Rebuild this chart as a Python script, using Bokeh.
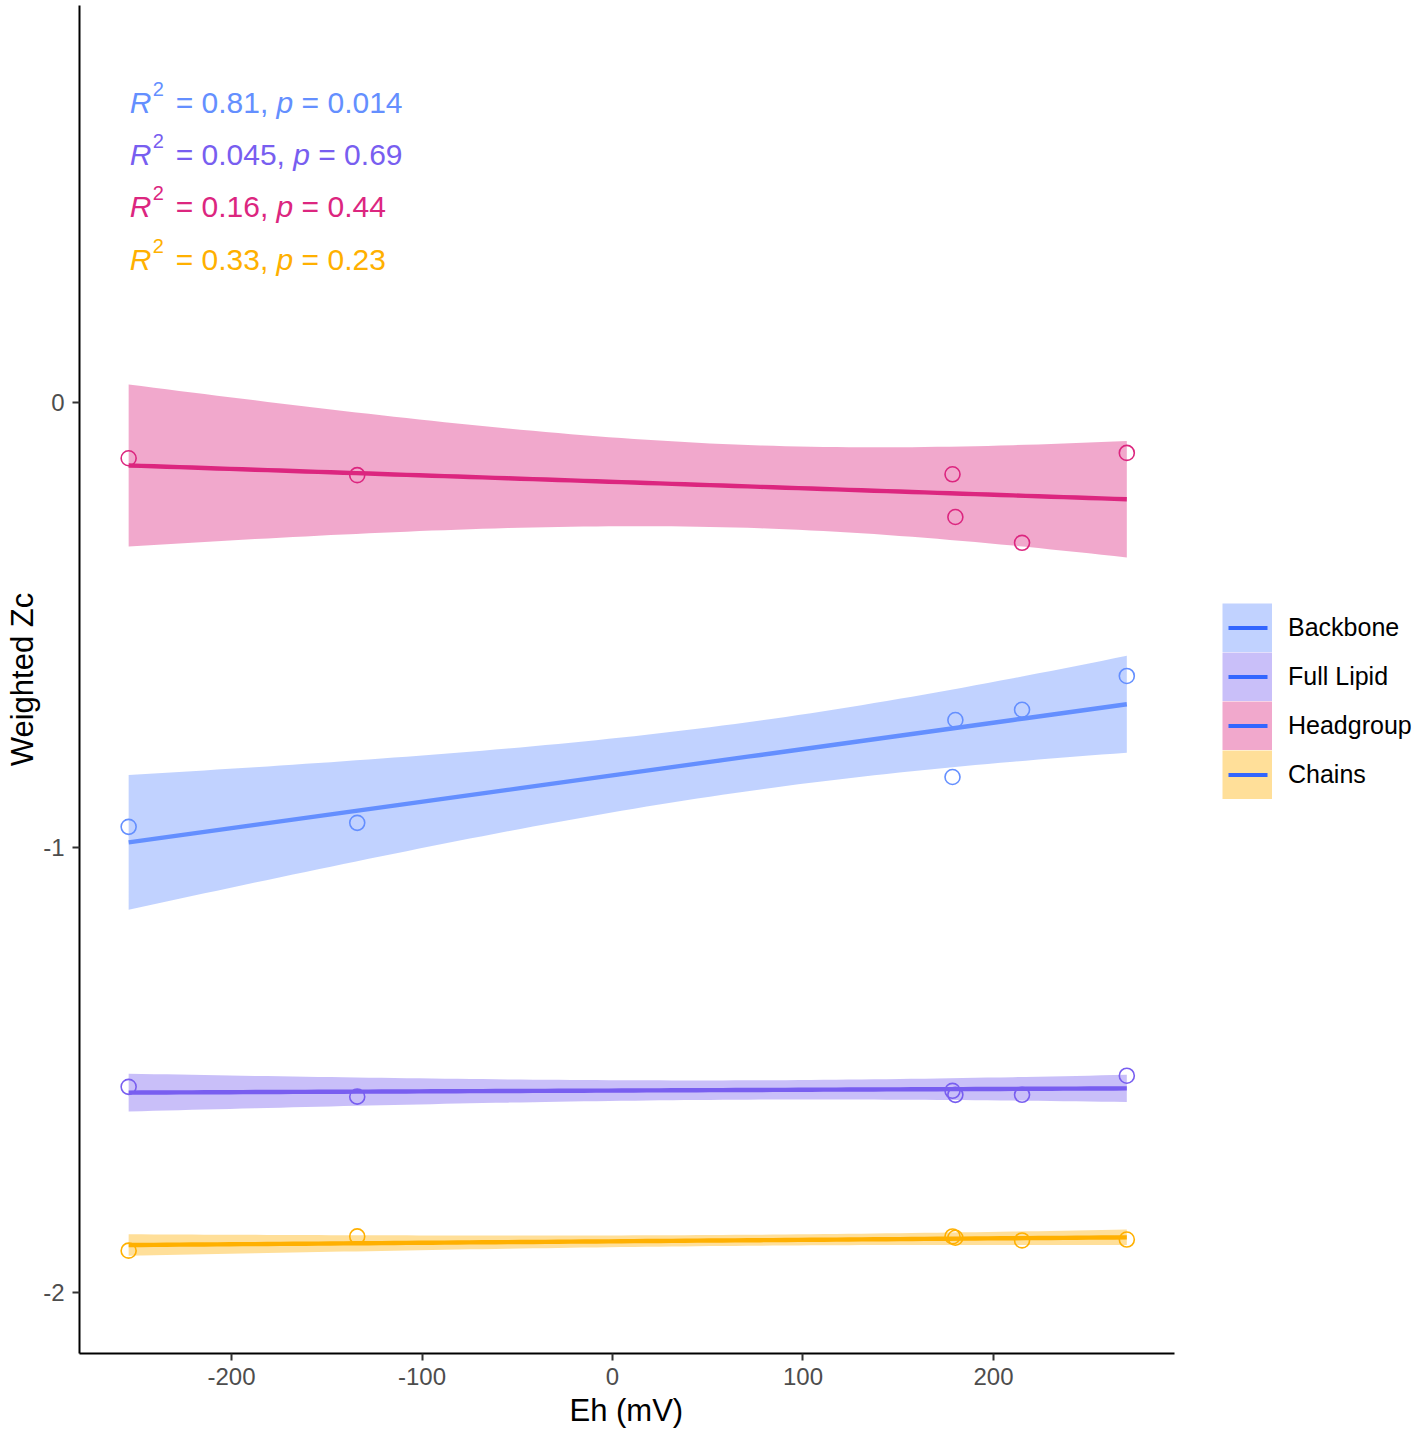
import numpy as np
from bokeh.plotting import figure
from bokeh.models import Range1d, FixedTicker, Legend, LegendItem, ColumnDataSource, Title
from bokeh.core.properties import value
from bokeh.embed import file_html
from bokeh.resources import INLINE

# ---------------- data ----------------
eh = [-254, -134, 178.5, 180, 215, 270]
backbone = [-0.954, -0.945, -0.842, -0.714, -0.691, -0.615]
full_lipid = [-1.538, -1.560, -1.547, -1.556, -1.556, -1.513]
headgroup = [-0.126, -0.164, -0.162, -0.258, -0.316, -0.114]
chains = [-1.906, -1.874, -1.874, -1.877, -1.883, -1.881]

groups = ["Backbone", "Full Lipid", "Headgroup", "Chains"]
series = [backbone, full_lipid, headgroup, chains]
colors = ["#648FFF", "#785EF0", "#DC267F", "#FFB000"]

r2_labels = ["0.81", "0.045", "0.16", "0.33"]
p_labels = ["0.014", "0.69", "0.44", "0.23"]
label_y = [0.674, 0.557, 0.440, 0.321]

x_ticks = [-200, -100, 0, 100, 200]
x_tick_labels = ["-200", "-100", "0", "100", "200"]
y_ticks = [-2, -1, 0]
y_tick_labels = ["-2", "-1", "0"]

x_axis_lo, x_axis_hi = -279.8, 295.0   # visible axis extent
x_view_hi = 422.6                        # frame extends right to hold the legend
y_lo, y_hi = -2.137, 0.891

FONT = "Liberation Sans"
T975_DF4 = 2.776445  # t quantile, 95% CI, df = n - 2 = 4


def lm_band(x, y, n=80):
    x = np.asarray(x, float)
    y = np.asarray(y, float)
    b, a = np.polyfit(x, y, 1)
    xs = np.linspace(x.min(), x.max(), n)
    fit = a + b * xs
    resid = y - (a + b * x)
    s = np.sqrt(np.sum(resid ** 2) / (len(x) - 2))
    se = s * np.sqrt(1.0 / len(x) + (xs - x.mean()) ** 2 / np.sum((x - x.mean()) ** 2))
    return xs, fit, fit - T975_DF4 * se, fit + T975_DF4 * se


p = figure(width=1417, height=1434, output_backend="svg", toolbar_location=None,
           x_range=Range1d(x_axis_lo, x_view_hi), y_range=Range1d(y_lo, y_hi),
           min_border_left=79, min_border_right=0, min_border_top=5, min_border_bottom=80)
p.background_fill_color = "white"
p.border_fill_color = "white"
p.outline_line_color = None
p.xgrid.visible = False
p.ygrid.visible = False

# points
for ys, c in zip(series, colors):
    p.scatter(x=eh, y=ys, size=15, marker="circle", fill_color=None,
              line_color=c, line_width=1.6)

# smooth bands + lines
for ys, c in zip(series, colors):
    xs, fit, lo, hi = lm_band(eh, ys)
    p.varea(x=xs, y1=lo, y2=hi, fill_color=c, fill_alpha=0.4)
    p.line(x=xs, y=fit, line_color=c, line_width=4.4)

# R^2 / p annotations
W = {'0': .556, '1': .556, '2': .556, '3': .556, '4': .556, '5': .556, '6': .556,
     '7': .556, '8': .556, '9': .556, '.': .278, ',': .278, ' ': .278, '=': .584}
FS = 30


def tw(s):
    return sum(W[ch] for ch in s) * FS


x_anchor = min(eh)
for r2, pv, ly, c in zip(r2_labels, p_labels, label_y, colors):
    seg1 = "= " + r2 + ", "
    off_eq = 47
    off_p = off_eq + tw(seg1)
    off_eq2 = off_p + 0.556 * FS + 0.278 * FS
    it = ColumnDataSource(dict(x=[x_anchor, x_anchor], y=[ly, ly], t=["R", "p"], o=[1, off_p]))
    p.text(x="x", y="y", text="t", x_offset="o", source=it, text_color=c,
           text_font=value(FONT), text_font_size=f"{FS}px", text_font_style="italic",
           text_baseline="alphabetic", text_align="left")
    rg = ColumnDataSource(dict(x=[x_anchor, x_anchor], y=[ly, ly], t=[seg1.rstrip(), "= " + pv],
                               o=[off_eq, off_eq2]))
    p.text(x="x", y="y", text="t", x_offset="o", source=rg, text_color=c,
           text_font=value(FONT), text_font_size=f"{FS}px",
           text_baseline="alphabetic", text_align="left")
    p.text(x=[x_anchor], y=[ly], text=["2"], x_offset=24, y_offset=-13, text_color=c,
           text_font=value(FONT), text_font_size="20px",
           text_baseline="alphabetic", text_align="left")

# axes
for ax in (p.xaxis[0], p.yaxis[0]):
    ax.axis_line_color = "black"
    ax.axis_line_width = 2
    ax.major_tick_line_color = "#333333"
    ax.major_tick_line_width = 2
    ax.major_tick_out = 7
    ax.major_tick_in = 0
    ax.minor_tick_line_color = None
    ax.major_label_text_font = FONT
    ax.major_label_text_font_size = "24px"
    ax.major_label_text_color = "#4D4D4D"
    ax.axis_label_text_font = FONT
    ax.axis_label_text_font_size = "31px"
    ax.axis_label_text_font_style = "normal"
    ax.axis_label_text_color = "black"

p.xaxis.bounds = (x_axis_lo, x_axis_hi)
p.xaxis.ticker = FixedTicker(ticks=x_ticks)
p.xaxis.major_label_overrides = dict(zip(x_ticks, x_tick_labels))
p.yaxis.ticker = FixedTicker(ticks=y_ticks)
p.yaxis.major_label_overrides = dict(zip(y_ticks, y_tick_labels))
p.yaxis.axis_label = "Weighted Zc"
p.xaxis.major_label_standoff = 7
p.yaxis.major_label_standoff = 8
p.yaxis.axis_label_standoff = 0

# x-axis title, centred under the visible axis
p.add_layout(Title(text="Eh (mV)", align="left", offset=490, vertical_align="top", standoff=10,
                   text_font=FONT, text_font_size="31px", text_font_style="normal",
                   text_color="black"), "below")

# legend
nan = float("nan")
items = []
for g, c in zip(groups, colors):
    r_fill = p.line(x=[nan, nan], y=[nan, nan], line_color=c, line_alpha=0.4, line_width=49)
    r_key = p.line(x=[nan, nan], y=[nan, nan], line_color="#3366FF", line_width=4,
                   line_dash="0 6 39 100")
    items.append(LegendItem(label=g, renderers=[r_fill, r_key]))
legend = Legend(items=items, location=(1143, 554), glyph_width=50, glyph_height=49,
                spacing=0, padding=0, margin=0, label_standoff=16,
                label_text_font=FONT, label_text_font_size="25px", label_text_color="black",
                border_line_color=None, background_fill_alpha=0)
p.add_layout(legend, "center")

open("out.html", "w").write(file_html(p, INLINE))
